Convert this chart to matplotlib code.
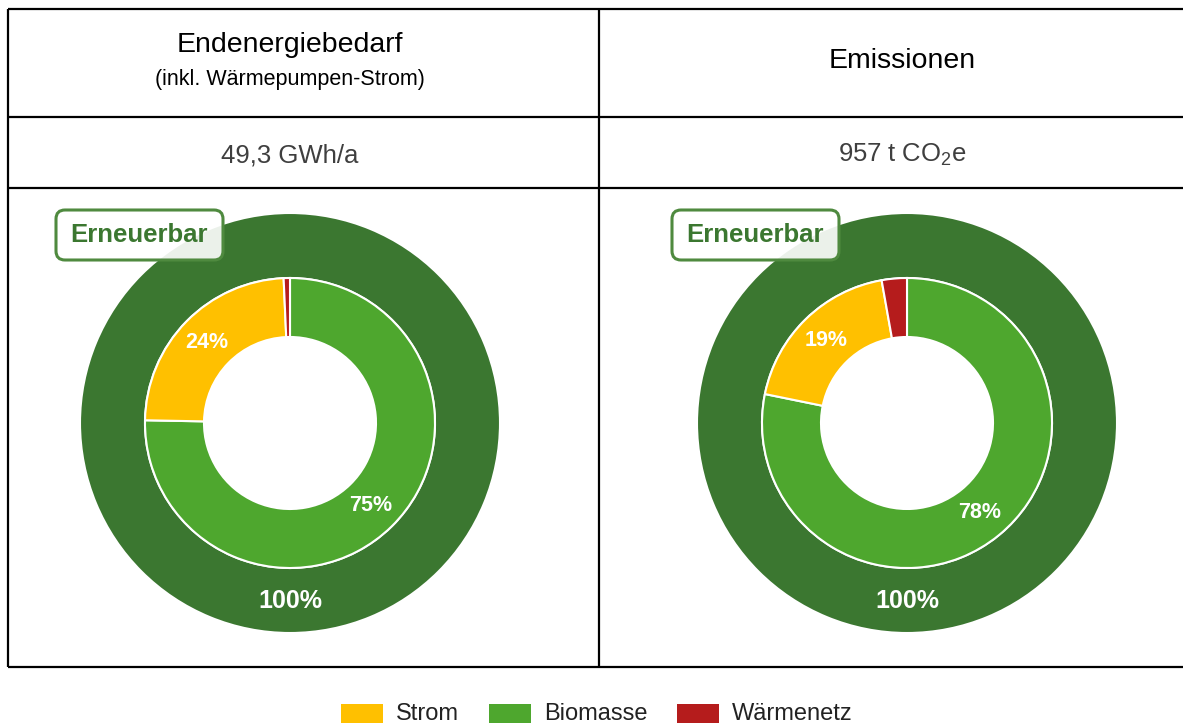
import matplotlib
matplotlib.use("Agg")
import numpy as np
import matplotlib.pyplot as plt
from matplotlib.patches import FancyBboxPatch, Rectangle

plt.rcParams['font.family'] = ['Liberation Sans', 'DejaVu Sans']
plt.rcParams['mathtext.fontset'] = 'custom'
plt.rcParams['mathtext.rm'] = 'Liberation Sans'
plt.rcParams['mathtext.it'] = 'Liberation Sans:italic'
plt.rcParams['mathtext.bf'] = 'Liberation Sans:bold'

# Data
categories = ["Strom", "Biomasse", "Wärmenetz"]
colors = ["#FFC000", "#4EA72E", "#B51C1C"]
energy_shares = [24.0, 75.3, 0.7]      # % of final energy demand
emission_shares = [19.0, 78.2, 2.8]    # % of emissions
renewable_share = [100]
renewable_color = "#3B7730"

panel_titles = ["Endenergiebedarf", "Emissionen"]
panel_subtitles = ["(inkl. Wärmepumpen-Strom)", ""]
panel_totals = ["49,3 GWh/a", r"957 t CO$\mathrm{_2}$e"]
badge_text = "Erneuerbar"

W, H = 1183, 724
fig = plt.figure(figsize=(W / 100, H / 100), dpi=100)
ax = fig.add_axes([0, 0, 1, 1])


def Y(y):
    # pixel row (from top) -> data y
    return H - y


# Table grid
line_kw = dict(color="black", lw=1.6, solid_capstyle="butt")
left_x, mid_x, right_x = 8, 599, 1200
for yy in (9, 117, 188, 667):
    ax.plot([left_x, right_x], [Y(yy), Y(yy)], **line_kw)
for xx in (left_x, mid_x):
    ax.plot([xx, xx], [Y(9), Y(667)], **line_kw)

centers_x = [290, 907]
text_x = [290, 902]
cy = 423
r_outer, r_split, r_hole = 210, 145, 86


def draw_panel(i, shares):
    cx = centers_x[i]
    # header text
    if panel_subtitles[i]:
        ax.text(text_x[i], Y(45), panel_titles[i], ha="center", va="center",
                fontsize=20.5, color="black")
        ax.text(text_x[i], Y(79), panel_subtitles[i], ha="center", va="center",
                fontsize=15.5, color="black")
    else:
        ax.text(text_x[i], Y(61), panel_titles[i], ha="center", va="center",
                fontsize=20.5, color="black")
    ax.text(text_x[i], Y(155), panel_totals[i], ha="center", va="center",
            fontsize=18.5, color="#3f3f3f")

    # outer ring: renewable share
    ax.pie(renewable_share, colors=[renewable_color], radius=r_outer,
           center=(cx, Y(cy)), startangle=90, counterclock=False,
           wedgeprops=dict(width=r_outer - r_split, edgecolor="white", linewidth=1.5))
    ax.text(cx, Y(cy) - (r_outer + r_split) / 2, f"{renewable_share[0]}%",
            ha="center", va="center", fontsize=18, fontweight="bold", color="white")

    # inner ring: energy carriers, clockwise from the top
    order = [1, 0, 2]
    vals = [shares[k] for k in order]
    cols = [colors[k] for k in order]
    wedges, _ = ax.pie(vals, colors=cols, radius=r_split, center=(cx, Y(cy)),
                       startangle=90, counterclock=False,
                       wedgeprops=dict(width=r_split - r_hole, edgecolor="white",
                                       linewidth=1.5))
    rm = (r_split + r_hole) / 2
    for w, v in zip(wedges, vals):
        if v < 5:
            continue
        ang = np.deg2rad((w.theta1 + w.theta2) / 2)
        ax.text(cx + rm * np.cos(ang), Y(cy) + rm * np.sin(ang), f"{v:.0f}%",
                ha="center", va="center", fontsize=15.5, fontweight="bold",
                color="white")


draw_panel(0, energy_shares)
draw_panel(1, emission_shares)

# "Erneuerbar" badges
for bx in (56, 672):
    box = FancyBboxPatch((bx, Y(260)), 167, 50,
                         boxstyle="round,pad=0,rounding_size=9",
                         facecolor="white", alpha=0.9, edgecolor="none", zorder=5)
    ax.add_patch(box)
    edge = FancyBboxPatch((bx, Y(260)), 167, 50,
                          boxstyle="round,pad=0,rounding_size=9",
                          facecolor="none", edgecolor="#4F8A3F", lw=2.2, zorder=6)
    ax.add_patch(edge)
    ax.text(bx + 83.5, Y(235), badge_text, ha="center", va="center",
            fontsize=18.5, fontweight="bold", color="#3B7730", zorder=7)

# Legend
leg_swatch_x = [341, 489, 677]
for x0, lab, col in zip(leg_swatch_x, categories, colors):
    ax.add_patch(Rectangle((x0, Y(723)), 42, 19, facecolor=col, edgecolor="none"))
    ax.text(x0 + 55, Y(714), lab, ha="left", va="center", fontsize=17,
            color="#222222")

ax.set_xlim(0, W)
ax.set_ylim(0, H)
ax.set_aspect("auto")
ax.axis("off")
fig.savefig("out.png", dpi=100, facecolor="white")
